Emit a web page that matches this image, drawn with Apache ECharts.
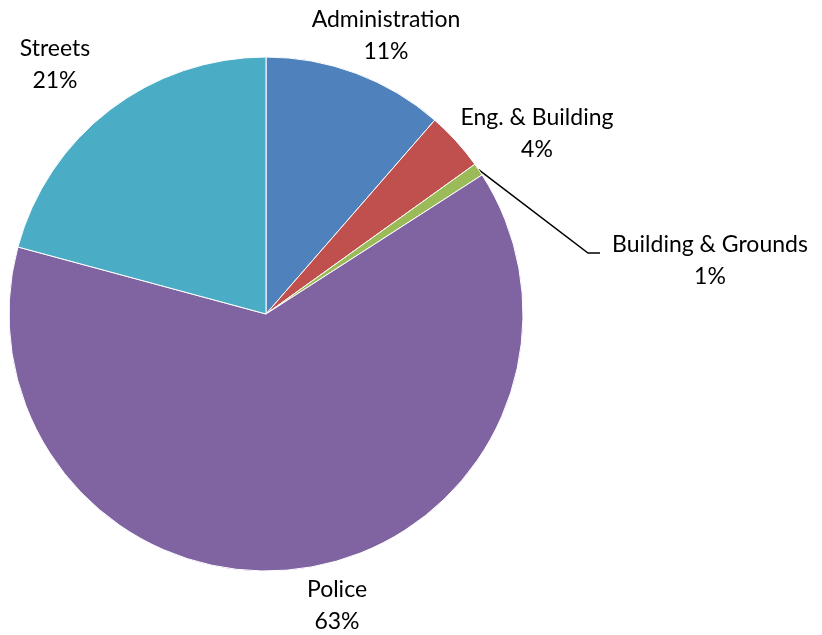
<!DOCTYPE html>
<html>
<head>
<meta charset="utf-8">
<script src="https://cdn.jsdelivr.net/npm/echarts@6/dist/echarts.min.js"></script>
<style>
html,body{margin:0;padding:0;background:#fff;}
#main{width:822px;height:635px;}
</style>
</head>
<body>
<div id="main"></div>
<script>
const categories = ['Administration', 'Eng. & Building', 'Building & Grounds', 'Police', 'Streets'];
const values = [11.4, 3.7, 0.8, 63.3, 20.8];
const colors = ['#4F81BD', '#C0504D', '#9BBB59', '#8064A2', '#4BACC6'];
// label anchor positions (centers) in pixels, as placed in the reference
const labelPos = [[386, 36], [537, 134], [710, 261], [337, 606], [55, 65]];

const chart = echarts.init(document.getElementById('main'), null, {renderer: 'canvas'});
const data = categories.map((c, i) => ({
  name: c,
  value: values[i],
  itemStyle: {color: colors[i]},
  labelLine: {show: i === 2}
}));

chart.setOption({
  animation: false,
  backgroundColor: '#fff',
  series: [{
    type: 'pie',
    center: [266, 314],
    radius: [0, 257],
    startAngle: 90,
    clockwise: true,
    avoidLabelOverlap: false,
    data: data,
    itemStyle: {borderColor: '#fff', borderWidth: 1},
    label: {
      show: true,
      position: 'outside',
      formatter: p => p.name + '\n' + Math.round(p.percent) + '%',
      fontFamily: 'Lato, "Open Sans", sans-serif',
      fontSize: 23,
      lineHeight: 32,
      color: '#000',
      align: 'center'
    },
    labelLine: {
      show: false,
      lineStyle: {color: '#000', width: 1.5}
    },
    labelLayout: function (params) {
      const i = params.dataIndex;
      const res = {x: labelPos[i][0], y: labelPos[i][1], align: 'center', verticalAlign: 'middle'};
      if (i === 2 && params.labelLinePoints) {
        const s = params.labelLinePoints[0];
        res.labelLinePoints = [[s[0], s[1]], [588, 253], [600, 253]];
      }
      return res;
    }
  }]
});
</script>
</body>
</html>
